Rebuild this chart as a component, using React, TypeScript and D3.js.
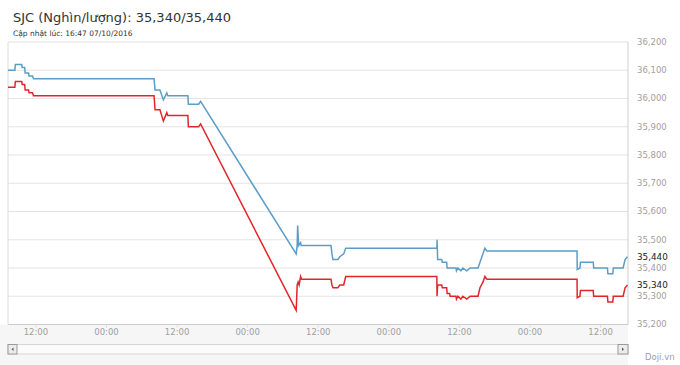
import React from 'react';
import * as d3 from 'd3';

// SJC gold price, Oct 3 - Oct 7 2016 (thousand VND / tael)
const sellSeries: [string, number][] = [
  ['03 07:15', 36100], ['03 08:25', 36100], ['03 08:30', 36120], ['03 09:35', 36120],
  ['03 09:40', 36110], ['03 10:05', 36110], ['03 10:10', 36090], ['03 10:45', 36090],
  ['03 10:50', 36080], ['03 11:25', 36080], ['03 11:35', 36070], ['04 08:05', 36070],
  ['04 08:15', 36030], ['04 09:05', 36030], ['04 09:40', 35995], ['04 10:15', 36020],
  ['04 10:25', 36010], ['04 13:50', 36010], ['04 13:55', 35980], ['04 15:40', 35980],
  ['04 16:00', 35990], ['05 08:15', 35450], ['05 08:25', 35480], ['05 08:30', 35550],
  ['05 08:40', 35480], ['05 09:00', 35490], ['05 09:05', 35480], ['05 14:10', 35480],
  ['05 14:20', 35450], ['05 14:30', 35430], ['05 15:20', 35430], ['05 15:40', 35440],
  ['05 16:20', 35450], ['05 16:40', 35470], ['06 08:10', 35470], ['06 08:12', 35500],
  ['06 08:18', 35430], ['06 09:00', 35430], ['06 09:05', 35420], ['06 09:50', 35420],
  ['06 09:55', 35400], ['06 11:25', 35400], ['06 11:30', 35390], ['06 11:45', 35400],
  ['06 12:15', 35390], ['06 12:35', 35400], ['06 13:15', 35390], ['06 13:50', 35400],
  ['06 15:10', 35400], ['06 15:30', 35420], ['06 16:00', 35450], ['06 16:20', 35470],
  ['06 16:40', 35460], ['07 08:00', 35460], ['07 08:02', 35395], ['07 08:30', 35400],
  ['07 08:35', 35420], ['07 10:45', 35420], ['07 10:50', 35400], ['07 13:10', 35400],
  ['07 13:15', 35380], ['07 14:05', 35380], ['07 14:10', 35400], ['07 15:50', 35400],
  ['07 16:10', 35430], ['07 16:35', 35440],
];

const buySeries: [string, number][] = [
  ['03 07:15', 36040], ['03 08:25', 36040], ['03 08:30', 36060], ['03 09:35', 36060],
  ['03 09:40', 36050], ['03 10:05', 36050], ['03 10:10', 36030], ['03 10:45', 36030],
  ['03 10:50', 36020], ['03 11:25', 36020], ['03 11:35', 36010], ['04 08:05', 36010],
  ['04 08:15', 35960], ['04 09:05', 35960], ['04 09:40', 35920], ['04 10:15', 35950],
  ['04 10:25', 35940], ['04 13:50', 35940], ['04 13:55', 35900], ['04 15:40', 35900],
  ['04 16:00', 35910], ['05 08:15', 35250], ['05 08:25', 35340], ['05 08:35', 35350],
  ['05 08:45', 35340], ['05 09:00', 35370], ['05 09:10', 35360], ['05 14:10', 35360],
  ['05 14:20', 35340], ['05 14:30', 35330], ['05 15:20', 35330], ['05 15:40', 35340],
  ['05 16:20', 35340], ['05 16:40', 35370], ['06 08:10', 35370], ['06 08:12', 35300],
  ['06 08:18', 35340], ['06 09:00', 35340], ['06 09:05', 35330], ['06 09:50', 35330],
  ['06 09:55', 35310], ['06 10:20', 35310], ['06 10:25', 35300], ['06 11:25', 35300],
  ['06 11:30', 35290], ['06 11:45', 35300], ['06 12:15', 35290], ['06 12:35', 35300],
  ['06 13:15', 35290], ['06 13:50', 35300], ['06 15:10', 35300], ['06 15:30', 35330],
  ['06 16:00', 35350], ['06 16:20', 35370], ['06 16:40', 35360], ['07 08:00', 35360],
  ['07 08:02', 35295], ['07 08:30', 35300], ['07 08:35', 35320], ['07 10:45', 35320],
  ['07 10:50', 35300], ['07 13:10', 35300], ['07 13:15', 35280], ['07 14:05', 35280],
  ['07 14:10', 35300], ['07 15:50', 35300], ['07 16:10', 35330], ['07 16:35', 35340],
];

const timeRange = ['03 07:15', '07 16:40'];
const priceTicks = [35200, 35300, 35400, 35500, 35600, 35700, 35800, 35900, 36000, 36100, 36200];
const lastBuy = 35340;
const lastSell = 35440;

const parse = (s: string) => d3.timeParse('%Y-%m-%d %H:%M')('2016-10-' + s) as Date;

const W = 680;
const H = 365;
const left = 8;
const right = 628;
const top = 42;
const bottom = 324.5;
const font = '"DejaVu Sans", Verdana, sans-serif';

const App: React.FC = () => {
  const x = d3.scaleTime().domain(timeRange.map(parse)).range([left, right]);
  const y = d3.scaleLinear().domain([35200, 36200]).range([bottom, top]);

  const line = d3.line<[string, number]>()
    .x(d => x(parse(d[0])))
    .y(d => y(d[1]));

  const xTicks = x.ticks(d3.timeHour.every(12) as d3.TimeInterval);
  const fmt = d3.timeFormat('%H:%M');
  const num = d3.format(',');

  return (
    <div style={{ position: 'absolute', left: 0, top: 0 }}>
      <svg width={W} height={H} style={{ display: 'block', fontFamily: font }}>
        <rect width={W} height={H} fill="#ffffff" />
        <rect x={0} y={bottom} width={right} height={H - bottom} fill="#f6f6f6" />

        <text x={13} y={22} fontSize={13} fill="#333">SJC (Nghìn/lượng): 35,340/35,440</text>
        <text x={13} y={36} fontSize={7.5} fill="#333">Cập nhật lúc: 16:47 07/10/2016</text>

        {/* grid */}
        {priceTicks.map(v => (
          <line key={v} x1={left} x2={right} y1={y(v)} y2={y(v)} stroke="#e4e4e4" strokeWidth={1.2} />
        ))}
        <line x1={left} x2={left} y1={top} y2={bottom} stroke="#dcdcdc" />
        <line x1={right} x2={right} y1={top} y2={bottom} stroke="#cfcfcf" />
        <line x1={left} x2={right} y1={bottom} y2={bottom} stroke="#cccccc" />

        {/* y labels */}
        {priceTicks.map(v => (
          <text key={v} x={637} y={y(v)} dy="0.35em" fontSize={8.5} fill="#a0a0a0">{num(v)}</text>
        ))}

        {/* x labels */}
        {xTicks.map(t => (
          <g key={+t}>
            <line x1={x(t)} x2={x(t)} y1={bottom} y2={bottom + 3} stroke="#dddddd" />
            <text x={x(t)} y={334.5} textAnchor="middle" fontSize={8.5} fill="#a0a0a0">{fmt(t)}</text>
          </g>
        ))}

        {/* series */}
        <path d={line(sellSeries) || ''} fill="none" stroke="#5b9dc6" strokeWidth={1.5} />
        <path d={line(buySeries) || ''} fill="none" stroke="#e0262b" strokeWidth={1.5} />

        {/* last values */}
        <rect x={634} y={y(lastSell) - 6} width={36} height={12} fill="#ffffff" />
        <text x={637} y={y(lastSell)} dy="0.35em" fontSize={8.8} fill="#222">{num(lastSell)}</text>
        <rect x={634} y={y(lastBuy) - 6} width={36} height={12} fill="#ffffff" />
        <text x={637} y={y(lastBuy)} dy="0.35em" fontSize={8.8} fill="#222">{num(lastBuy)}</text>

        {/* scrollbar */}
        <rect x={left} y={344.5} width={right - left} height={9.5} fill="#fbfbfb" stroke="#d6d6d6" />
        <rect x={left} y={344.5} width={9} height={9.5} fill="#ececec" stroke="#9a9a9a" />
        <path d={`M${left + 5.5},347.5 L${left + 3.5},349.25 L${left + 5.5},351 Z`} fill="#555" />
        <rect x={right - 10} y={344.5} width={10} height={9.5} fill="#ececec" stroke="#9a9a9a" />
        <path d={`M${right - 6},347.5 L${right - 4},349.25 L${right - 6},351 Z`} fill="#555" />

        <text x={645} y={360} fontSize={8.5} fill="#a0a0a0">Doji.vn</text>
      </svg>
    </div>
  );
};

export default App;
